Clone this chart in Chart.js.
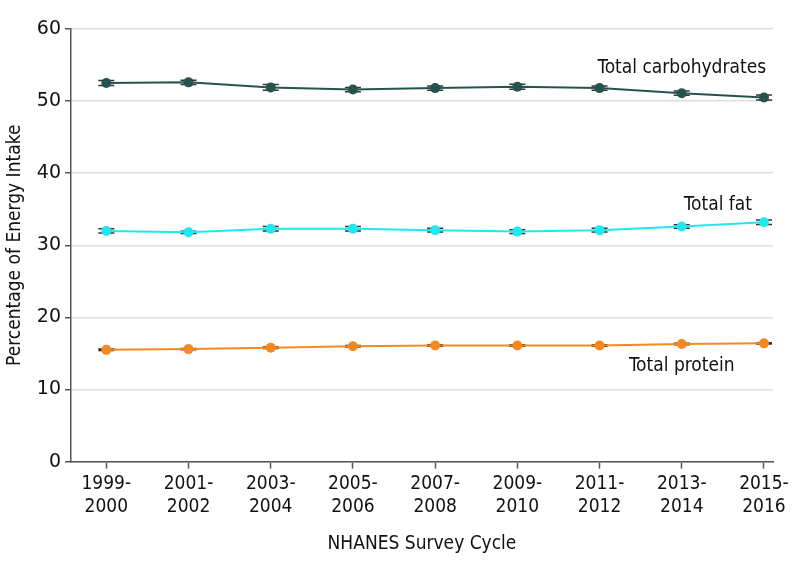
<!DOCTYPE html>
<html>
<head>
<meta charset="utf-8">
<script src="https://cdn.jsdelivr.net/npm/chart.js@4"></script>
<style>
  html, body { margin: 0; padding: 0; background: #fff; }
  #wrap { width: 798px; height: 570px; position: relative; }
</style>
</head>
<body>
<div id="wrap"><canvas id="chart"></canvas></div>
<script>
// survey cycles (two-line labels)
const cycles = [
  ['1999-', '2000'], ['2001-', '2002'], ['2003-', '2004'], ['2005-', '2006'],
  ['2007-', '2008'], ['2009-', '2010'], ['2011-', '2012'], ['2013-', '2014'], ['2015-', '2016']
];
const carbs = [52.5, 52.6, 51.9, 51.6, 51.8, 52.0, 51.8, 51.1, 50.5];
const carbsErr = [0.35, 0.3, 0.4, 0.3, 0.3, 0.35, 0.3, 0.3, 0.35];
const fat = [32.0, 31.8, 32.3, 32.3, 32.1, 31.9, 32.1, 32.6, 33.2];
const fatErr = [0.3, 0.15, 0.3, 0.3, 0.25, 0.25, 0.25, 0.25, 0.3];
const protein = [15.5, 15.6, 15.8, 16.0, 16.1, 16.1, 16.1, 16.3, 16.4];
const proteinErr = [0.1, 0.1, 0.1, 0.1, 0.1, 0.1, 0.1, 0.1, 0.1];
const yTicks = [0, 10, 20, 30, 40, 50, 60];

// series labels placed in data coordinates
const seriesLabels = [
  { text: 'Total carbohydrates', x: 7.0, y: 54.6 },
  { text: 'Total fat', x: 7.44, y: 35.6 },
  { text: 'Total protein', x: 7.0, y: 13.3 }
];

const narrow = "'Liberation Sans Narrow', 'DejaVu Sans Condensed', 'Liberation Sans', sans-serif";

function pts(arr, err) {
  return arr.map((v, i) => ({ x: i, y: v, err: err[i] }));
}

// error bars (caps) + series labels
const extras = {
  id: 'extras',
  beforeDatasetsDraw(chart) {
    const ctx = chart.ctx;
    const xs = chart.scales.x, ys = chart.scales.y;
    ctx.save();
    ctx.strokeStyle = '#333';
    ctx.lineWidth = 1.5;
    chart.data.datasets.forEach(ds => {
      ds.data.forEach(p => {
        const px = xs.getPixelForValue(p.x);
        const top = ys.getPixelForValue(p.y + p.err);
        const bot = ys.getPixelForValue(p.y - p.err);
        ctx.beginPath();
        ctx.moveTo(px, top); ctx.lineTo(px, bot);
        ctx.moveTo(px - 8, top); ctx.lineTo(px + 8, top);
        ctx.moveTo(px - 8, bot); ctx.lineTo(px + 8, bot);
        ctx.stroke();
      });
    });
    ctx.restore();
  },
  afterDatasetsDraw(chart) {
    const ctx = chart.ctx;
    const xs = chart.scales.x, ys = chart.scales.y;
    ctx.save();
    ctx.fillStyle = '#111';
    ctx.font = '19px ' + narrow;
    ctx.textAlign = 'center';
    ctx.textBaseline = 'middle';
    seriesLabels.forEach(l => {
      ctx.fillText(l.text, xs.getPixelForValue(l.x), ys.getPixelForValue(l.y));
    });
    ctx.restore();
  }
};

new Chart(document.getElementById('chart').getContext('2d'), {
  type: 'line',
  data: {
    datasets: [
      {
        label: 'Total carbohydrates',
        data: pts(carbs, carbsErr),
        borderColor: '#27534f',
        backgroundColor: '#27534f',
        borderWidth: 2,
        pointRadius: 5,
        pointBorderWidth: 0
      },
      {
        label: 'Total fat',
        data: pts(fat, fatErr),
        borderColor: '#1fe8f0',
        backgroundColor: '#1fe8f0',
        borderWidth: 2,
        pointRadius: 5,
        pointBorderWidth: 0
      },
      {
        label: 'Total protein',
        data: pts(protein, proteinErr),
        borderColor: '#f5891f',
        backgroundColor: '#f5891f',
        borderWidth: 2,
        pointRadius: 5,
        pointBorderWidth: 0
      }
    ]
  },
  options: {
    responsive: true,
    maintainAspectRatio: false,
    animation: false,
    layout: { padding: { top: 29, right: 25, left: 0, bottom: 11 } },
    plugins: {
      legend: { display: false },
      tooltip: { enabled: false }
    },
    scales: {
      x: {
        type: 'linear',
        min: -0.43,
        max: 8.11,
        afterBuildTicks(scale) {
          scale.ticks = cycles.map((_, i) => ({ value: i }));
        },
        ticks: {
          autoSkip: false,
          maxRotation: 0,
          color: '#111',
          font: { family: narrow, size: 19 },
          padding: 4,
          callback: v => cycles[v]
        },
        grid: { drawOnChartArea: false, drawTicks: true, tickLength: 7, tickColor: '#555', tickWidth: 1.5 },
        border: { display: true, color: '#555', width: 1.5 },
        title: {
          display: true,
          text: 'NHANES Survey Cycle',
          color: '#111',
          font: { family: narrow, size: 19 },
          padding: { top: 10 }
        }
      },
      y: {
        min: 0,
        max: 60,
        afterBuildTicks(scale) {
          scale.ticks = yTicks.map(v => ({ value: v }));
        },
        ticks: {
          color: '#111',
          font: { family: "'DejaVu Sans', sans-serif", size: 19 },
          padding: 4
        },
        grid: { color: '#dedede', lineWidth: 1.5, tickLength: 6, tickColor: '#555', tickWidth: 1.5 },
        border: { display: true, color: '#555', width: 1.5 },
        title: {
          display: true,
          text: 'Percentage of Energy Intake',
          color: '#111',
          font: { family: narrow, size: 19 },
          padding: { bottom: 6 }
        }
      }
    }
  },
  plugins: [extras]
});
</script>
</body>
</html>
